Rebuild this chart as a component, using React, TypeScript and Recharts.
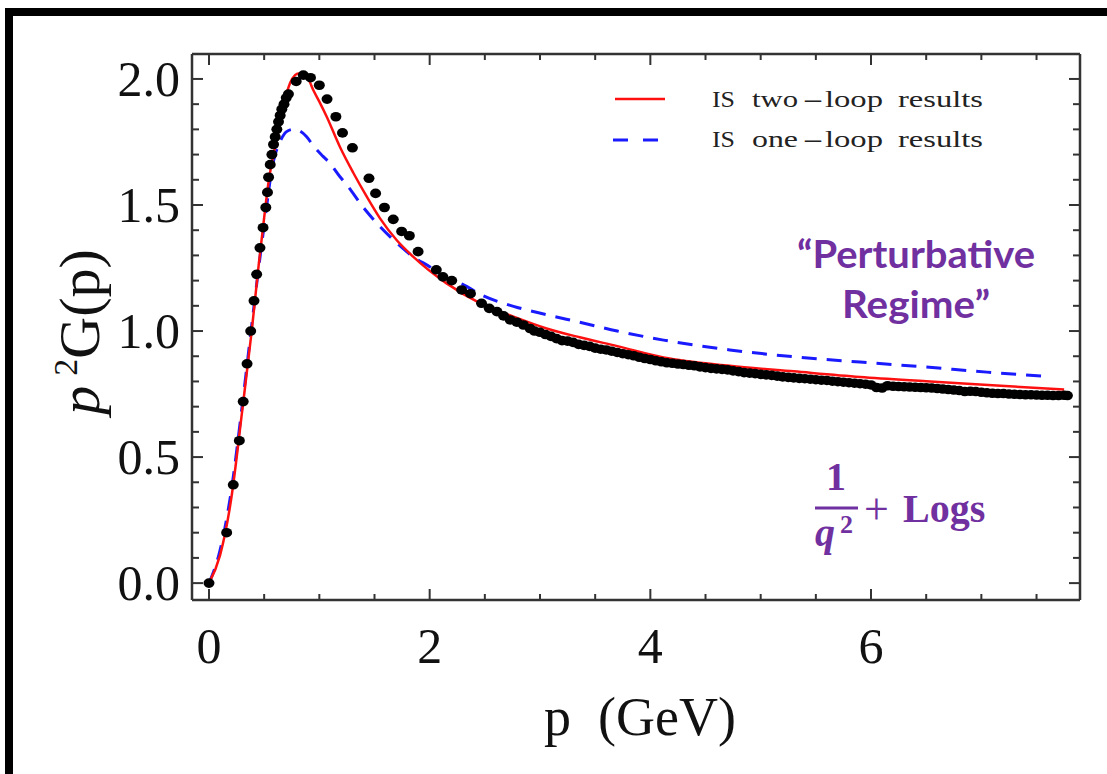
import { ComposedChart, Line, Scatter, XAxis, YAxis } from 'recharts';

// lattice points (p in GeV, p^2 G(p))
const lattice: [number, number][] = [
  [0.0, 0.0], [0.16, 0.2], [0.22, 0.39], [0.275, 0.565], [0.31, 0.72], [0.345, 0.87],
  [0.378, 1.0], [0.408, 1.12], [0.432, 1.225], [0.462, 1.33], [0.49, 1.41], [0.515, 1.49],
  [0.53, 1.55], [0.54, 1.61], [0.555, 1.66], [0.57, 1.7], [0.585, 1.74], [0.6, 1.77],
  [0.615, 1.8], [0.63, 1.83], [0.645, 1.855], [0.66, 1.88], [0.68, 1.9], [0.7, 1.925],
  [0.72, 1.94], [0.79, 1.99], [0.855, 2.015], [0.92, 2.005], [1.0, 1.975], [1.07, 1.92],
  [1.15, 1.85], [1.21, 1.786], [1.3, 1.727], [1.45, 1.606], [1.51, 1.546], [1.59, 1.49],
  [1.67, 1.443], [1.746, 1.395], [1.816, 1.378], [1.895, 1.315], [2.06, 1.243], [2.12, 1.215],
  [2.2, 1.2], [2.29, 1.163], [2.37, 1.148], [2.47, 1.11], [2.54, 1.09], [2.61, 1.077],
  [2.67, 1.06], [2.73, 1.044], [2.79, 1.035], [2.85, 1.024], [2.91, 1.01], [2.95, 1.0],
  [3.0, 0.995], [3.05, 0.986], [3.1, 0.979], [3.15, 0.97], [3.2, 0.962], [3.25, 0.96],
  [3.3, 0.955], [3.35, 0.947], [3.4, 0.943], [3.45, 0.939], [3.5, 0.932], [3.55, 0.928],
  [3.6, 0.925], [3.65, 0.92], [3.7, 0.915], [3.75, 0.91], [3.8, 0.906], [3.85, 0.902],
  [3.9, 0.896], [3.95, 0.891], [4.0, 0.887], [4.05, 0.882], [4.1, 0.878], [4.15, 0.874],
  [4.2, 0.872], [4.25, 0.869], [4.3, 0.867], [4.35, 0.864], [4.4, 0.862], [4.45, 0.858],
  [4.5, 0.855], [4.55, 0.852], [4.6, 0.85], [4.65, 0.848], [4.7, 0.846], [4.75, 0.842],
  [4.8, 0.839], [4.85, 0.835], [4.9, 0.833], [4.95, 0.831], [5.0, 0.828], [5.05, 0.826],
  [5.1, 0.824], [5.15, 0.821], [5.2, 0.818], [5.25, 0.816], [5.3, 0.814], [5.35, 0.812],
  [5.4, 0.811], [5.45, 0.809], [5.5, 0.807], [5.55, 0.805], [5.6, 0.804], [5.65, 0.801],
  [5.7, 0.799], [5.75, 0.797], [5.8, 0.795], [5.85, 0.793], [5.9, 0.791], [5.95, 0.789],
  [6.0, 0.786], [6.05, 0.776], [6.1, 0.774], [6.15, 0.783], [6.2, 0.781], [6.25, 0.78],
  [6.3, 0.779], [6.35, 0.778], [6.4, 0.777], [6.45, 0.776], [6.5, 0.775], [6.55, 0.774],
  [6.6, 0.772], [6.65, 0.77], [6.7, 0.768], [6.75, 0.766], [6.8, 0.764], [6.85, 0.76],
  [6.9, 0.761], [6.95, 0.76], [7.0, 0.757], [7.05, 0.755], [7.1, 0.753], [7.15, 0.752],
  [7.2, 0.752], [7.25, 0.75], [7.3, 0.749], [7.35, 0.748], [7.4, 0.747], [7.45, 0.747],
  [7.5, 0.746], [7.55, 0.745], [7.6, 0.745], [7.65, 0.744], [7.7, 0.744], [7.75, 0.745],
  [7.78, 0.744],
];

const twoLoop: [number, number][] = [
  [0, 0], [0.1, 0.11], [0.2, 0.33], [0.3, 0.68], [0.387, 1.0], [0.45, 1.26], [0.5, 1.45],
  [0.538, 1.586], [0.575, 1.68], [0.613, 1.758], [0.674, 1.89], [0.734, 1.983], [0.78, 2.015],
  [0.81, 2.022], [0.86, 2.018], [0.9, 2.0], [0.945, 1.956], [1.0, 1.91], [1.067, 1.85],
  [1.187, 1.73], [1.31, 1.626], [1.43, 1.533], [1.55, 1.447], [1.7, 1.361], [1.85, 1.295],
  [2.15, 1.19], [2.46, 1.11], [2.76, 1.057], [3.06, 1.01], [3.36, 0.975], [3.7, 0.94],
  [4.12, 0.895], [4.72, 0.862], [5.3, 0.84], [5.9, 0.818], [6.5, 0.801], [7.1, 0.785],
  [7.75, 0.768],
];

const oneLoop: [number, number][] = [
  [0, 0], [0.1, 0.13], [0.2, 0.36], [0.3, 0.7], [0.4, 1.07], [0.45, 1.25], [0.5, 1.42],
  [0.538, 1.546], [0.568, 1.64], [0.6, 1.7], [0.643, 1.75], [0.7, 1.79], [0.76, 1.8],
  [0.8, 1.798], [0.885, 1.771], [0.945, 1.735], [1.036, 1.692], [1.097, 1.665], [1.187, 1.612],
  [1.248, 1.58], [1.4, 1.49], [1.55, 1.414], [1.7, 1.35], [1.85, 1.295], [2.0, 1.255],
  [2.15, 1.21], [2.3, 1.185], [2.46, 1.145], [2.76, 1.098], [3.06, 1.065], [3.36, 1.035],
  [3.7, 1.0], [4.12, 0.964], [4.72, 0.925], [5.3, 0.898], [5.9, 0.877], [6.47, 0.858],
  [7.05, 0.837], [7.62, 0.819],
];

const xTicks = [0, 0.5, 1, 1.5, 2, 2.5, 3, 3.5, 4, 4.5, 5, 5.5, 6, 6.5, 7, 7.5];
const xLabels = [0, 2, 4, 6];
const yTicks = [0, 0.1, 0.2, 0.3, 0.4, 0.5, 0.6, 0.7, 0.8, 0.9, 1.0, 1.1, 1.2, 1.3, 1.4, 1.5, 1.6, 1.7, 1.8, 1.9, 2.0];
const yLabels = ['0.0', '0.5', '1.0', '1.5', '2.0'];

const toRows = (pts: [number, number][]) => pts.map(([p, g]) => ({ p, g }));

const AXIS = '#333';
const SERIF = '"Liberation Serif", "Times New Roman", serif';
const PURPLE = '#7030A0';
const X_DOMAIN = [-0.154, 7.894];
const Y_DOMAIN = [-0.067, 2.099];

const isMajorY = (v: number) => Math.abs(v * 2 - Math.round(v * 2)) < 1e-6;

function BottomTick({ x, y, payload }: any) {
  const major = xLabels.includes(payload.value);
  return (
    <g>
      <line x1={x} x2={x} y1={y} y2={y - (major ? 11 : 6)} stroke={AXIS} strokeWidth={2} />
      {major && (
        <text x={x} y={y + 63} textAnchor="middle" fontFamily={SERIF} fontSize={50} fill="#111">
          {payload.value}
        </text>
      )}
    </g>
  );
}

function TopTick({ x, y, payload }: any) {
  const major = xLabels.includes(payload.value);
  return <line x1={x} x2={x} y1={y} y2={y + (major ? 11 : 6)} stroke={AXIS} strokeWidth={2} />;
}

function LeftTick({ x, y, payload }: any) {
  const major = isMajorY(payload.value);
  const label = yLabels.find((l) => Math.abs(Number(l) - payload.value) < 1e-6);
  return (
    <g>
      <line x1={x} x2={x + (major ? 11 : 7)} y1={y} y2={y} stroke={AXIS} strokeWidth={2} />
      {label && (
        <text x={x - 12} y={y + 17} textAnchor="end" fontFamily={SERIF} fontSize={50} fill="#111">
          {label}
        </text>
      )}
    </g>
  );
}

function RightTick({ x, y, payload }: any) {
  const major = isMajorY(payload.value);
  return <line x1={x} x2={x - (major ? 11 : 7)} y1={y} y2={y} stroke={AXIS} strokeWidth={2} />;
}

function Dot({ cx, cy }: any) {
  return <ellipse cx={cx} cy={cy} rx={5.5} ry={4.8} fill="#000" />;
}

// one legend row: words placed where they sit in the figure
function LegendRow({ y, word }: { y: number; word: string }) {
  const t = { fontFamily: SERIF, fontSize: 24, fill: '#222', lengthAdjust: 'spacingAndGlyphs' as const };
  return (
    <g>
      <text x={712} y={y} textLength={23} {...t}>IS</text>
      <text x={752} y={y} textLength={46} {...t}>{word}</text>
      <text x={805} y={y} textLength={16} {...t} fontWeight={700}>–</text>
      <text x={825} y={y} textLength={58} {...t}>loop</text>
      <text x={898} y={y} textLength={85} {...t}>results</text>
    </g>
  );
}

export default function App() {
  return (
    <div style={{ position: 'absolute', left: 0, top: 0, width: 1107, height: 774, background: '#fff', overflow: 'hidden' }}>
      <ComposedChart width={1107} height={774} margin={{ top: 53, right: 26, bottom: 173, left: 191 }}>
        <XAxis
          dataKey="p"
          type="number"
          domain={X_DOMAIN}
          allowDataOverflow
          ticks={xTicks}
          interval={0}
          height={1}
          tickSize={0}
          tickMargin={0}
          tickLine={false}
          tick={BottomTick}
          axisLine={{ stroke: AXIS, strokeWidth: 2.5 }}
        />
        <XAxis
          xAxisId="top"
          orientation="top"
          dataKey="p"
          type="number"
          domain={X_DOMAIN}
          allowDataOverflow
          ticks={xTicks}
          interval={0}
          height={1}
          tickSize={0}
          tickMargin={0}
          tickLine={false}
          tick={TopTick}
          axisLine={{ stroke: AXIS, strokeWidth: 2.5 }}
        />
        <YAxis
          type="number"
          domain={Y_DOMAIN}
          allowDataOverflow
          ticks={yTicks}
          interval={0}
          width={1}
          tickSize={0}
          tickMargin={0}
          tickLine={false}
          tick={LeftTick}
          axisLine={{ stroke: AXIS, strokeWidth: 2.5 }}
        />
        <YAxis
          yAxisId="right"
          orientation="right"
          type="number"
          domain={Y_DOMAIN}
          allowDataOverflow
          ticks={yTicks}
          interval={0}
          width={1}
          tickSize={0}
          tickMargin={0}
          tickLine={false}
          tick={RightTick}
          axisLine={{ stroke: AXIS, strokeWidth: 2.5 }}
        />
        <Scatter data={toRows(lattice)} dataKey="g" shape={Dot} isAnimationActive={false} />
        <Line
          data={toRows(oneLoop)}
          dataKey="g"
          type="monotone"
          stroke="#1a1aff"
          strokeWidth={3}
          strokeDasharray="15 10"
          dot={false}
          isAnimationActive={false}
        />
        <Line
          data={toRows(twoLoop)}
          dataKey="g"
          type="monotone"
          stroke="#ff1010"
          strokeWidth={2.5}
          dot={false}
          isAnimationActive={false}
        />
      </ComposedChart>

      <svg
        width={1107}
        height={774}
        style={{ position: 'absolute', left: 0, top: 0, pointerEvents: 'none' }}
      >
        {/* outer frame */}
        <path d="M9 774 V12 H1107" fill="none" stroke="#000" strokeWidth={8} />

        {/* legend */}
        <line x1={615} x2={665} y1={99} y2={99} stroke="#ff1010" strokeWidth={2.5} />
        <LegendRow y={107} word="two" />
        <line x1={613} x2={658} y1={140} y2={140} stroke="#1a1aff" strokeWidth={3} strokeDasharray="15 15" />
        <LegendRow y={147} word="one" />

        {/* axis titles */}
        <text x={640} y={735} textAnchor="middle" fontFamily={SERIF} fontSize={54} fill="#111" style={{ whiteSpace: 'pre' }}>
          p  (GeV)
        </text>
        <text transform="translate(99,332) rotate(-90)" textAnchor="middle" fontFamily={SERIF} fontSize={58} fill="#111">
          <tspan fontStyle="italic">p</tspan>
          <tspan dx={10} dy={-22} fontSize={34}>2</tspan>
          <tspan dy={22}>G(p)</tspan>
        </text>

        {/* annotations */}
        <text x={797} y={268} fontFamily="Lato, 'Open Sans', sans-serif" fontWeight={700} fontSize={38} fill={PURPLE} textLength={238} lengthAdjust="spacingAndGlyphs">
          “Perturbative
        </text>
        <text x={842} y={318} fontFamily="Lato, 'Open Sans', sans-serif" fontWeight={700} fontSize={38} fill={PURPLE} textLength={148} lengthAdjust="spacingAndGlyphs">
          Regime”
        </text>
        <text x={836} y={490} textAnchor="middle" fontFamily={SERIF} fontWeight={700} fontSize={40} fill={PURPLE}>1</text>
        <line x1={815} x2={858} y1={508} y2={508} stroke={PURPLE} strokeWidth={3} />
        <text x={815} y={546} fontFamily={SERIF} fontWeight={700} fontStyle="italic" fontSize={40} fill={PURPLE}>q</text>
        <text x={840} y={533} fontFamily={SERIF} fontWeight={700} fontSize={26} fill={PURPLE}>2</text>
        <text x={864} y={524} fontFamily={SERIF} fontSize={44} fill={PURPLE}>+</text>
        <text x={903} y={522} fontFamily={SERIF} fontWeight={700} fontSize={40} fill={PURPLE}>Logs</text>
      </svg>
    </div>
  );
}
